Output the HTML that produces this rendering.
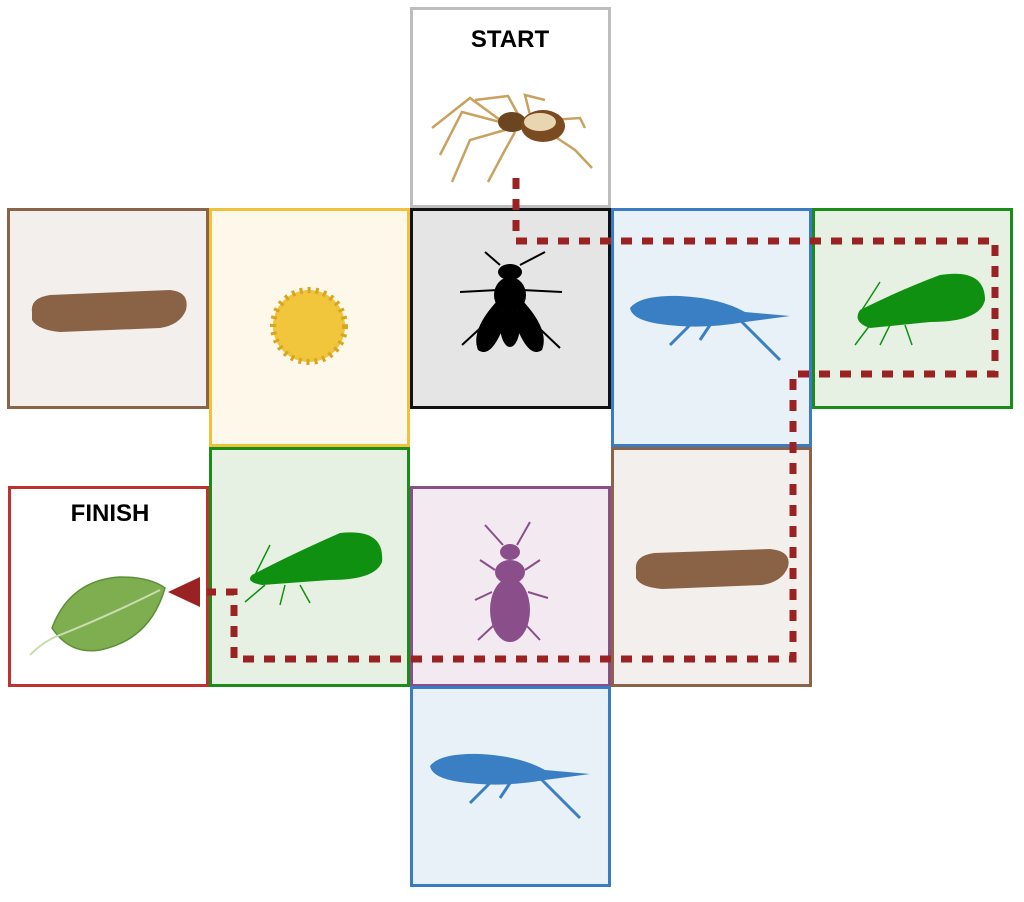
<!DOCTYPE html>
<html><head><meta charset="utf-8"><style>
html,body{margin:0;padding:0;background:#fff;}
body{width:1024px;height:897px;position:relative;overflow:hidden;font-family:"Liberation Sans",sans-serif;}
</style></head><body>
<svg width="1024" height="897" viewBox="0 0 1024 897" xmlns="http://www.w3.org/2000/svg">
<g stroke-width="3">
<rect x="411.5" y="8.5" width="198" height="198" fill="#fff" stroke="#bdbdbd"/>
<rect x="8.5" y="209.5" width="199" height="198" fill="#f3efec" stroke="#8b6447"/>
<rect x="210.5" y="209.5" width="198" height="236" fill="#fdf8ea" stroke="#f0c23a"/>
<rect x="411.5" y="209.5" width="198" height="198" fill="#e5e5e5" stroke="#111"/>
<rect x="612.5" y="209.5" width="198" height="236" fill="#e8f0f8" stroke="#3a7cc3"/>
<rect x="813.5" y="209.5" width="198" height="198" fill="#e6f1e4" stroke="#1a8c1a"/>
<rect x="9.5" y="487.5" width="198" height="198" fill="#fff" stroke="#c0302e"/>
<rect x="210.5" y="448.5" width="198" height="237" fill="#e6f1e4" stroke="#1a8c1a"/>
<rect x="411.5" y="487.5" width="198" height="198" fill="#f2e9f1" stroke="#8a4f8a"/>
<rect x="612.5" y="448.5" width="198" height="237" fill="#f3efec" stroke="#8b6447"/>
<rect x="411.5" y="687.5" width="198" height="198" fill="#e8f0f8" stroke="#3a7cc3"/>
</g>
<text x="510" y="47" text-anchor="middle" font-size="24" font-weight="bold" font-family="Liberation Sans,sans-serif">START</text>
<text x="110" y="521" text-anchor="middle" font-size="24" font-weight="bold" font-family="Liberation Sans,sans-serif">FINISH</text>
<!-- spider -->
<g stroke="#c9a160" stroke-width="2.5" fill="none">
<path d="M500 120 L470 98 L432 128"/><path d="M500 122 L462 112 L440 155"/><path d="M505 130 L470 140 L452 182"/>
<path d="M515 132 L505 150 L488 182"/><path d="M520 118 L508 96 L475 100"/><path d="M530 115 L525 95 L545 100"/>
<path d="M545 130 L575 150 L592 168"/><path d="M550 120 L580 118 L585 128"/>
</g>
<ellipse cx="512" cy="122" rx="14" ry="10" fill="#6b4420"/>
<ellipse cx="543" cy="126" rx="22" ry="16" fill="#7a4a20"/>
<ellipse cx="540" cy="122" rx="16" ry="9" fill="#e8d6b0"/>
<!-- caterpillars -->
<path d="M32 312 Q30 298 50 295 L170 290 Q190 292 186 310 Q180 325 160 328 L60 332 Q38 330 32 320 Z" fill="#8a6347"/>
<path d="M636 570 Q634 556 654 553 L770 549 Q792 551 788 567 Q782 582 762 585 L662 589 Q640 587 636 578 Z" fill="#8a6347"/>
<!-- pollen -->
<circle cx="309" cy="326" r="36" fill="#efc33a" stroke="#d9a520" stroke-width="6" stroke-dasharray="3 5"/>
<circle cx="309" cy="326" r="32" fill="#f1c63c"/>
<!-- fly -->
<g fill="#000">
<ellipse cx="510" cy="272" rx="12" ry="8"/><ellipse cx="510" cy="295" rx="16" ry="18"/>
<path d="M498 300 Q470 330 478 350 Q492 360 506 320 Z"/><path d="M522 300 Q550 330 542 350 Q528 360 514 320 Z"/>
<ellipse cx="510" cy="325" rx="10" ry="22"/>
</g>
<g stroke="#000" stroke-width="2"><path d="M498 290 L460 292"/><path d="M522 290 L562 292"/><path d="M500 310 L462 345"/><path d="M520 310 L560 348"/><path d="M500 265 L485 252"/><path d="M520 265 L545 252"/></g>
<!-- blue springtails -->
<g fill="#3a7fc4">
<path d="M630 308 Q640 295 680 296 Q720 298 745 312 L790 316 L745 322 Q700 330 660 324 Q632 320 630 308 Z"/>
<path d="M430 766 Q440 753 480 754 Q520 756 545 770 L590 774 L545 780 Q500 788 460 782 Q432 778 430 766 Z"/>
</g>
<g stroke="#3a7fc4" stroke-width="3" fill="none"><path d="M740 320 L780 360"/><path d="M690 325 L670 345"/><path d="M710 325 L700 340"/><path d="M540 778 L580 818"/><path d="M490 783 L470 803"/><path d="M510 783 L500 798"/></g>
<!-- green aphids -->
<g fill="#109010">
<path d="M860 310 Q900 290 940 275 Q985 268 985 300 Q980 322 930 322 L870 328 Q852 322 860 310 Z"/>
<path d="M252 575 Q290 555 340 533 Q385 528 382 562 Q375 580 330 580 L262 585 Q245 582 252 575 Z"/>
</g>
<g stroke="#109010" stroke-width="1.5" fill="none"><path d="M862 310 L880 282"/><path d="M870 325 L855 345"/><path d="M890 325 L880 345"/><path d="M905 325 L912 345"/><path d="M255 575 L270 545"/><path d="M265 585 L245 602"/><path d="M285 585 L280 605"/><path d="M300 585 L310 603"/></g>
<!-- purple beetle -->
<g fill="#8a4f8a">
<ellipse cx="510" cy="552" rx="10" ry="8"/><ellipse cx="510" cy="572" rx="15" ry="12"/><ellipse cx="510" cy="610" rx="20" ry="32"/>
</g>
<g stroke="#8a4f8a" stroke-width="2" fill="none"><path d="M503 545 L485 525"/><path d="M517 545 L530 522"/><path d="M495 570 L480 560"/><path d="M525 570 L540 560"/><path d="M492 592 L475 600"/><path d="M528 592 L548 598"/><path d="M494 625 L478 640"/><path d="M526 625 L540 640"/></g>
<!-- leaf -->
<path d="M52 628 Q70 580 120 577 Q150 577 165 588 Q150 640 100 650 Q70 655 52 628 Z" fill="#7fae50" stroke="#5d8f3a" stroke-width="1.5"/>
<path d="M30 655 Q45 640 60 635 Q110 615 160 590" stroke="#c8deb0" stroke-width="2" fill="none"/>
<!-- path -->
<path d="M516 178 L516 241 L995 241 L995 374 L793 374 L793 659 L234 659 L234 592 L207 592" fill="none" stroke="#9b2223" stroke-width="7" stroke-dasharray="11 10"/>
<polygon points="168,592 200,577 200,607" fill="#9b2223"/>
</svg>
</body></html>
